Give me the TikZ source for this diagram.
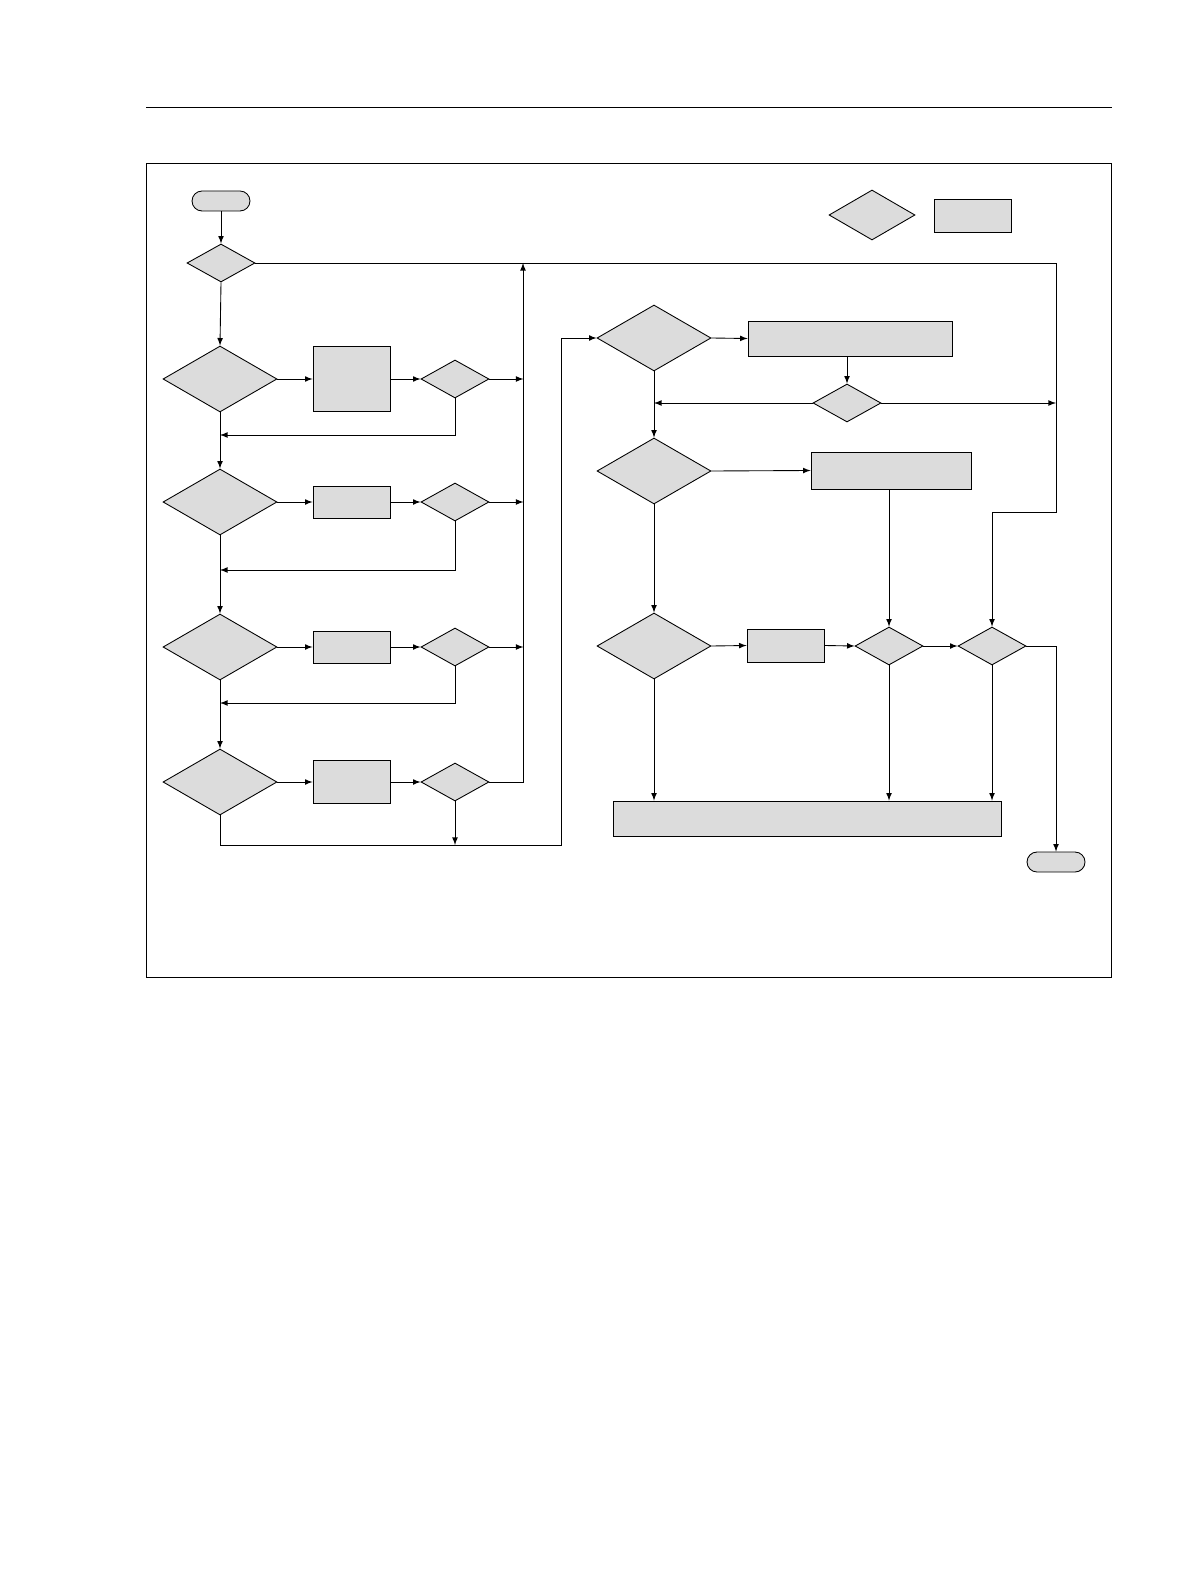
\documentclass[tikz,border=0pt]{standalone}
\usetikzlibrary{shapes.geometric,shapes.misc,arrows,positioning}
\definecolor{boxgray}{HTML}{DCDCDC}
\begin{document}
\begin{tikzpicture}[x=0.02cm,y=-0.02cm,>=latex,line width=0.5pt,
		bigdec/.style={draw,diamond,fill=boxgray,inner sep=0pt,minimum width=2.28cm,minimum height=1.32cm},
		smalldec/.style={draw,diamond,fill=boxgray,inner sep=0pt,minimum width=1.36cm,minimum height=0.76cm},
		proc/.style={draw,rectangle,fill=boxgray,inner sep=0pt},
		term/.style={draw,rounded rectangle,fill=boxgray,minimum width=1.16cm,minimum height=0.4cm,inner sep=0pt}
		]
	\useasboundingbox (0,0) rectangle (1190,1584);

	% Rahmen
	% ----------------------
	\draw (146,107) -- (1112,107);
	\draw (146,163) rectangle (1111,977);

	% Legende
	\node[smalldec,minimum width=1.72cm,minimum height=1cm] (legDec) at (872,215) {};
	\node[proc,minimum width=1.54cm,minimum height=0.66cm] (legBox) at (972.5,215.5) {};

	% Linke Spalte
	% ----------------------
	\node[term] (start) at (221,201) {};
	\node[smalldec] (dec0) at (221,263) {};

	\foreach \n/\y/\h in {1/379/1.3,2/502/0.64,3/647/0.64,4/782/0.86}{
		\node[bigdec] (dec\n) at (220,\y) {};
		\node[proc,minimum width=1.54cm,minimum height=\h cm] (box\n) at (351.5,\y) {};
		\node[smalldec] (sd\n) at (455,\y) {};
		\draw[->] (dec\n.east) -- (box\n.west);
		\draw[->] (box\n.east) -- (sd\n.west);
	}
	\foreach \n in {1,2,3}{
		\draw[->] (sd\n.east) -- ++(34,0);
	}
	\coordinate (up) at (523,263);
	\draw[->] (sd4.east) -| (up);

	\draw[->] (start.south) -- (dec0.north);
	\draw[->] (dec0.south) -- (dec1.north);
	\draw[->] (dec1.south) -- (dec2.north);
	\draw[->] (dec2.south) -- (dec3.north);
	\draw[->] (dec3.south) -- (dec4.north);
	\draw[->] (sd1.south) |- (220,435);
	\draw[->] (sd2.south) |- (220,570);
	\draw[->] (sd3.south) |- (220,703);
	\draw[->] (sd4.south) -- (455,845);

	% Rechte Spalte
	% ----------------------
	\node[bigdec] (rdec1) at (654,338) {};
	\node[proc,minimum width=4.08cm,minimum height=0.7cm] (rbox1) at (850,338.5) {};
	\node[smalldec] (rsd1) at (847,403) {};
	\node[bigdec] (rdec2) at (654,471) {};
	\node[proc,minimum width=3.2cm,minimum height=0.74cm] (rbox2) at (891,470.5) {};
	\node[bigdec] (rdec3) at (654,646) {};
	\node[proc,minimum width=1.54cm,minimum height=0.66cm] (rbox3) at (785.5,645.5) {};
	\node[smalldec] (rsd2) at (889,646) {};
	\node[smalldec] (rsd3) at (992,646) {};
	\node[proc,minimum width=7.76cm,minimum height=0.7cm] (rbox4) at (807,818.5) {};
	\node[term] (stop) at (1056,862) {};

	\draw[->] (dec4.south) |- (561,845) |- (rdec1.west);
	\draw (dec0.east) -- (1056,263) -- (1056,512) -- (992,512);
	\draw[->] (992,512) -- (rsd3.north);
	\draw[->] (rdec1.east) -- (rbox1.west);
	\draw[->] (rbox1.south -| rsd1) -- (rsd1.north);
	\draw[->] (rsd1.west) -- (654,403);
	\draw[->] (rsd1.east) -- (1056,403);
	\draw[->] (rdec1.south) -- (rdec2.north);
	\draw[->] (rdec2.east) -- (rbox2.west);
	\draw[->] (rbox2.south -| rsd2) -- (rsd2.north);
	\draw[->] (rdec2.south) -- (rdec3.north);
	\draw[->] (rdec3.east) -- (rbox3.west);
	\draw[->] (rbox3.east) -- (rsd2.west);
	\draw[->] (rsd2.east) -- (rsd3.west);
	\draw[->] (rsd3.east) -| (stop.north);
	\draw[->] (rdec3.south) -- (rdec3.south |- rbox4.north);
	\draw[->] (rsd2.south) -- (rsd2.south |- rbox4.north);
	\draw[->] (rsd3.south) -- (rsd3.south |- rbox4.north);
\end{tikzpicture}
\end{document}
